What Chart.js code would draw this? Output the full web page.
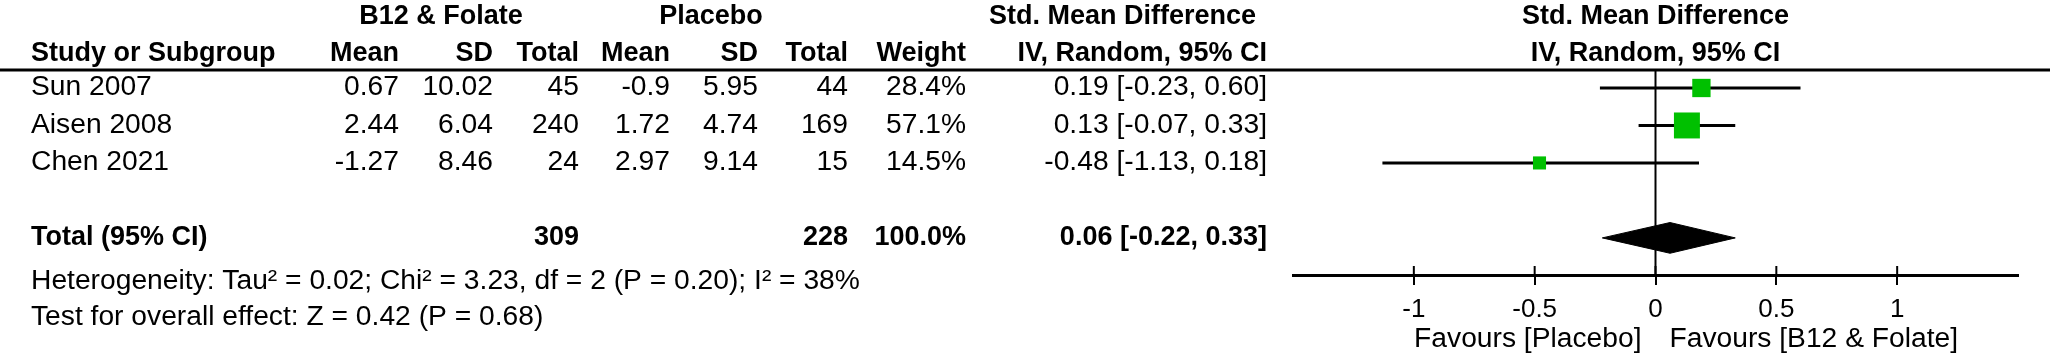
<!DOCTYPE html>
<html><head><meta charset="utf-8">
<script src="https://cdn.jsdelivr.net/npm/chart.js@4.4.1/dist/chart.umd.min.js"></script>
<style>html,body{margin:0;padding:0;background:#fff;overflow:hidden}#wrap{width:2050px;height:361px;position:relative}</style>
</head><body><div id="wrap"><canvas id="c"></canvas></div>
<script>
// ---- data ----
const studies = ["Sun 2007", "Aisen 2008", "Chen 2021"];
const expMean = ["0.67", "2.44", "-1.27"];
const expSD = ["10.02", "6.04", "8.46"];
const expTotal = [45, 240, 24];
const ctlMean = ["-0.9", "1.72", "2.97"];
const ctlSD = ["5.95", "4.74", "9.14"];
const ctlTotal = [44, 169, 15];
const weights = [28.4, 57.1, 14.5];
const smd = [0.19, 0.13, -0.48];
const ciLow = [-0.23, -0.07, -1.13];
const ciHigh = [0.60, 0.33, 0.18];
const totalExp = 309;
const totalCtl = 228;
const totalWeight = 100.0;
const pooled = [0.06];
const pooledLow = [-0.22];
const pooledHigh = [0.33];
const heterogeneityText = "Heterogeneity: Tau² = 0.02; Chi² = 3.23, df = 2 (P = 0.20); I² = 38%";
const overallText = "Test for overall effect: Z = 0.42 (P = 0.68)";
const tickValues = [-1, -0.5, 0, 0.5, 1];
const tickLabels = ["-1", "-0.5", "0", "0.5", "1"];
const favourLeft = "Favours [Placebo]";
const favourRight = "Favours [B12 & Folate]";

// ---- styling / layout ----
const FONT = "'Liberation Sans', Arial, sans-serif";
const FS = 27;
const SX_REG = 1.045;
const SX_BOLD = 1.0;
const TOTAL_ROW = 5;
const fmt2 = v => (v < 0 ? "-" : "") + Math.abs(v).toFixed(2);
const ciText = (e, l, h) => fmt2(e) + " [" + fmt2(l) + ", " + fmt2(h) + "]";

const cols = { study: 31, mean: 399, sd: 493, total: 579, cMean: 670, cSD: 758, cTotal: 848, weight: 966, ci: 1267 };

function txt(ctx, s, x, y, align, bold) {
  ctx.save();
  ctx.font = (bold ? "bold " : "") + FS + "px " + FONT;
  ctx.textAlign = align;
  ctx.textBaseline = "middle";
  ctx.fillStyle = "#000";
  ctx.translate(x, y);
  ctx.scale(bold ? SX_BOLD : SX_REG, 1);
  ctx.fillText(s, 0, 0);
  ctx.restore();
}

const forestPlugin = {
  id: "forest",
  beforeDatasetsDraw(chart) {
    const { ctx, chartArea, scales } = chart;
    const x = scales.x;
    ctx.save();
    ctx.strokeStyle = "#000";
    ctx.lineWidth = 3;
    ctx.beginPath(); ctx.moveTo(0, chartArea.top); ctx.lineTo(chart.width, chartArea.top); ctx.stroke();
    const x0 = x.getPixelForValue(0);
    ctx.lineWidth = 2;
    ctx.beginPath(); ctx.moveTo(x0, chartArea.top); ctx.lineTo(x0, chartArea.bottom); ctx.stroke();
    tickValues.forEach(v => {
      const px = x.getPixelForValue(v);
      ctx.beginPath(); ctx.moveTo(px, chartArea.bottom - 9); ctx.lineTo(px, chartArea.bottom); ctx.stroke();
    });
    ctx.restore();
  },
  afterDraw(chart) {
    const { ctx, scales } = chart;
    const y = scales.y, x = scales.x;
    const yH1 = 17, yH2 = 54;
    txt(ctx, "B12 & Folate", 441, yH1, "center", true);
    txt(ctx, "Placebo", 711, yH1, "center", true);
    txt(ctx, "Std. Mean Difference", 1256, yH1, "right", true);
    txt(ctx, "Study or Subgroup", cols.study, yH2, "left", true);
    txt(ctx, "Mean", cols.mean, yH2, "right", true);
    txt(ctx, "SD", cols.sd, yH2, "right", true);
    txt(ctx, "Total", cols.total, yH2, "right", true);
    txt(ctx, "Mean", cols.cMean, yH2, "right", true);
    txt(ctx, "SD", cols.cSD, yH2, "right", true);
    txt(ctx, "Total", cols.cTotal, yH2, "right", true);
    txt(ctx, "Weight", cols.weight, yH2, "right", true);
    txt(ctx, "IV, Random, 95% CI", cols.ci, yH2, "right", true);
    const x0 = x.getPixelForValue(0);
    txt(ctx, "Std. Mean Difference", x0, yH1, "center", true);
    txt(ctx, "IV, Random, 95% CI", x0, yH2, "center", true);
    studies.forEach((s, i) => {
      const py = y.getPixelForValue(i + 1);
      txt(ctx, s, cols.study, py, "left");
      txt(ctx, expMean[i], cols.mean, py, "right");
      txt(ctx, expSD[i], cols.sd, py, "right");
      txt(ctx, String(expTotal[i]), cols.total, py, "right");
      txt(ctx, ctlMean[i], cols.cMean, py, "right");
      txt(ctx, ctlSD[i], cols.cSD, py, "right");
      txt(ctx, String(ctlTotal[i]), cols.cTotal, py, "right");
      txt(ctx, weights[i].toFixed(1) + "%", cols.weight, py, "right");
      txt(ctx, ciText(smd[i], ciLow[i], ciHigh[i]), cols.ci, py, "right");
    });
    const pt = y.getPixelForValue(TOTAL_ROW);
    txt(ctx, "Total (95% CI)", cols.study, pt, "left", true);
    txt(ctx, String(totalExp), cols.total, pt, "right", true);
    txt(ctx, String(totalCtl), cols.cTotal, pt, "right", true);
    txt(ctx, totalWeight.toFixed(1) + "%", cols.weight, pt, "right", true);
    txt(ctx, ciText(pooled[0], pooledLow[0], pooledHigh[0]), cols.ci, pt, "right", true);
    txt(ctx, heterogeneityText, cols.study, 282, "left");
    txt(ctx, overallText, cols.study, 318, "left");
    txt(ctx, favourLeft, x0 - 14, 340, "right");
    txt(ctx, favourRight, x0 + 14, 340, "left");
  }
};

const ciDatasets = studies.map((s, i) => ({
  type: "line",
  label: s + " CI",
  data: [{ x: ciLow[i], y: i + 1 }, { x: ciHigh[i], y: i + 1 }],
  borderColor: "#000",
  borderWidth: 3,
  pointRadius: 0,
  order: 2
}));

const squares = {
  type: "scatter",
  label: "Studies",
  data: smd.map((v, i) => ({ x: v, y: i + 1 })),
  pointStyle: "rect",
  backgroundColor: "#00c000",
  borderWidth: 0,
  pointRadius: c => 2.43 * Math.sqrt(weights[c.dataIndex]),
  pointHoverRadius: c => 2.43 * Math.sqrt(weights[c.dataIndex]),
  order: 1
};

const DH = 0.41;
const diamond = {
  type: "line",
  label: "Pooled",
  data: [
    { x: pooledLow[0], y: TOTAL_ROW },
    { x: pooled[0], y: TOTAL_ROW - DH },
    { x: pooledHigh[0], y: TOTAL_ROW },
    { x: pooled[0], y: TOTAL_ROW + DH },
    { x: pooledLow[0], y: TOTAL_ROW }
  ],
  borderColor: "#000",
  backgroundColor: "#000",
  borderWidth: 1,
  fill: "shape",
  pointRadius: 0,
  tension: 0,
  order: 0
};

new Chart(document.getElementById("c"), {
  type: "scatter",
  data: { datasets: [...ciDatasets, squares, diamond] },
  options: {
    responsive: true,
    maintainAspectRatio: false,
    animation: false,
    events: [],
    layout: { padding: { left: 1293, right: 32, top: 70, bottom: 0 } },
    plugins: { legend: { display: false }, tooltip: { enabled: false } },
    scales: {
      x: {
        type: "linear",
        min: -1.5, max: 1.5,
        afterBuildTicks: s => { s.ticks = tickValues.map(v => ({ value: v })); },
        afterFit: s => { s.height = 86; },
        ticks: {
          autoSkip: false, maxRotation: 0,
          callback: v => tickLabels[tickValues.indexOf(v)],
          font: { family: FONT, size: 26 },
          color: "#000",
          padding: 9
        },
        grid: { drawOnChartArea: false, drawTicks: true, tickLength: 10, color: "#000", lineWidth: 2 },
        border: { display: true, color: "#000", width: 3 }
      },
      y: { type: "linear", reverse: true, min: 0.52, max: 5.99, display: false }
    }
  },
  plugins: [forestPlugin]
});
</script></body></html>
